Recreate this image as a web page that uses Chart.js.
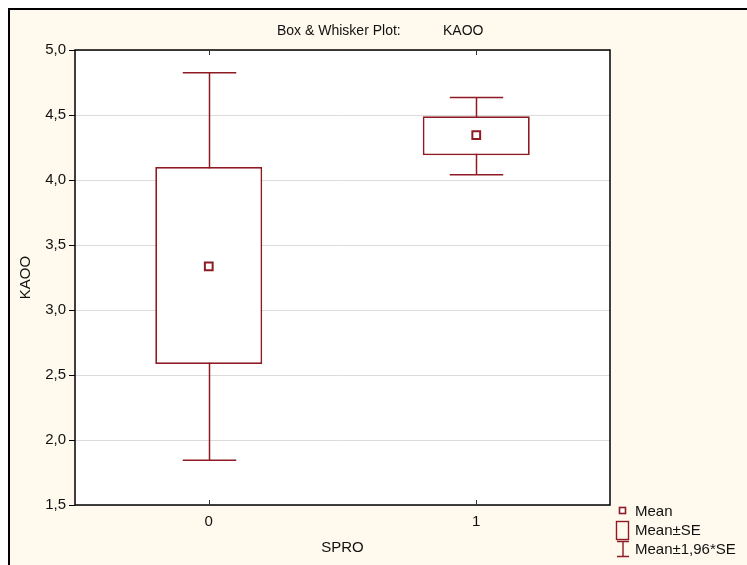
<!DOCTYPE html>
<html lang="en">
<head>
    <meta charset="UTF-8">
    <title>Box &amp; Whisker Plot: KAOO</title>
    <script src="https://cdn.jsdelivr.net/npm/chart.js"></script>
    <style>
        html, body { margin: 0; padding: 0; background: #fff; }
        body { width: 747px; height: 565px; position: relative; overflow: hidden; font-family: 'Liberation Sans', Arial, sans-serif; }
        .frame { position: absolute; left: 8px; top: 8px; width: 760px; height: 580px; background: #fff9ee;
                 border-left: 2px solid #000; border-top: 2px solid #000; }
        #chartWrap { position: absolute; left: 0; top: 0; width: 747px; height: 565px; }
        .title { position: absolute; top: 22px; font-size: 14px; line-height: 17px; color: #111; white-space: nowrap; }
        .legend { position: absolute; left: 612px; top: 501px; font-size: 15px; color: #111; }
        .legend div { position: relative; height: 19px; line-height: 19px; padding-left: 23px; }
        .legend svg { position: absolute; left: 0; top: 0; }
    </style>
</head>
<body>
    <div class="frame"></div>
    <div id="chartWrap"><canvas id="myChart" width="747" height="565"></canvas></div>
    <div class="title" style="left:277px;">Box &amp; Whisker Plot:</div>
    <div class="title" style="left:443px;">KAOO</div>
    <div class="legend">
        <div><svg width="20" height="19"><rect x="7.5" y="6.5" width="6" height="6" fill="#fff" stroke="#8e1b24" stroke-width="1.6"/></svg>Mean</div>
        <div><svg width="20" height="21"><rect x="4.5" y="1.5" width="12" height="18" fill="none" stroke="#8e1b24" stroke-width="1.4"/></svg>Mean±SE</div>
        <div><svg width="20" height="19"><path d="M5 2.5H17M11 2.5V17.5M5 17.5H17" fill="none" stroke="#8e1b24" stroke-width="1.4"/></svg>Mean±1,96*SE</div>
    </div>

    <script>
        // Datos
        const groups = ['0', '1'];
        const means = [3.335, 4.345];
        const seLow = [2.585, 4.19];
        const seHigh = [4.10, 4.49];
        const ciLow = [1.845, 4.04];
        const ciHigh = [4.825, 4.635];
        const yTicks = [1.5, 2.0, 2.5, 3.0, 3.5, 4.0, 4.5, 5.0];

        const boxColor = '#8e1b24';
        const axisFont = { family: 'Liberation Sans', size: 15 };

        // bigotes (debajo de las cajas) y marco del area
        const whiskers = {
            id: 'whiskers',
            beforeDatasetsDraw(chart) {
                const { ctx, scales: { x, y } } = chart;
                const half = (x.getPixelForValue(1) - x.getPixelForValue(0)) * 0.1;
                ctx.save();
                ctx.strokeStyle = boxColor;
                ctx.lineWidth = 1.5;
                groups.forEach((g, i) => {
                    const cx = Math.round(x.getPixelForValue(i)) + 0.5;
                    const top = y.getPixelForValue(ciHigh[i]);
                    const bot = y.getPixelForValue(ciLow[i]);
                    ctx.beginPath();
                    ctx.moveTo(cx, top); ctx.lineTo(cx, bot);
                    ctx.moveTo(cx - half, top); ctx.lineTo(cx + half, top);
                    ctx.moveTo(cx - half, bot); ctx.lineTo(cx + half, bot);
                    ctx.stroke();
                });
                ctx.restore();
            },
            afterDraw(chart) {
                const { ctx, chartArea: a, scales: { x } } = chart;
                ctx.save();
                ctx.strokeStyle = '#000';
                ctx.lineWidth = 1.5;
                ctx.strokeRect(a.left, a.top, a.right - a.left, a.bottom - a.top);
                ctx.lineWidth = 1;
                ctx.strokeStyle = '#333';
                groups.forEach((g, i) => {
                    const cx = Math.round(x.getPixelForValue(i)) + 0.5;
                    ctx.beginPath();
                    ctx.moveTo(cx, a.top); ctx.lineTo(cx, a.top + 5);
                    ctx.moveTo(cx, a.bottom); ctx.lineTo(cx, a.bottom - 5);
                    ctx.stroke();
                });
                ctx.restore();
            }
        };

        const plotBg = {
            id: 'plotBg',
            beforeDraw(chart) {
                const { ctx, chartArea: a } = chart;
                ctx.save();
                ctx.fillStyle = '#fff';
                ctx.fillRect(a.left, a.top, a.right - a.left, a.bottom - a.top);
                ctx.restore();
            }
        };

        const ctx = document.getElementById('myChart').getContext('2d');
        const chart = new Chart(ctx, {
            type: 'bar',
            data: {
                labels: groups,
                datasets: [{
                    type: 'line',
                    label: 'Mean',
                    data: means,
                    showLine: false,
                    pointStyle: 'rect',
                    pointRadius: 5.5,
                    pointBorderWidth: 2,
                    pointBackgroundColor: '#fff',
                    pointBorderColor: boxColor,
                    order: 0
                }, {
                    label: 'Mean±SE',
                    data: groups.map((g, i) => [seLow[i], seHigh[i]]),
                    backgroundColor: '#fff',
                    borderColor: boxColor,
                    borderWidth: 1.8,
                    borderSkipped: false,
                    categoryPercentage: 1,
                    barPercentage: 0.4,
                    order: 1
                }]
            },
            options: {
                responsive: false,
                animation: false,
                layout: { padding: { top: 50, right: 137, bottom: 0, left: 0 } },
                plugins: {
                    legend: { display: false },
                    tooltip: { enabled: false }
                },
                scales: {
                    x: {
                        offset: true,
                        grid: { display: true, drawOnChartArea: false, drawTicks: false },
                        border: { display: false },
                        ticks: { padding: 8, color: '#111', font: axisFont },
                        title: { display: true, text: 'SPRO', color: '#111', padding: { top: 0, bottom: 8 }, font: axisFont },
                        afterFit(scale) { scale.height = 60; }
                    },
                    y: {
                        min: 1.5,
                        max: 5,
                        afterBuildTicks(scale) { scale.ticks = yTicks.map(v => ({ value: v })); },
                        grid: { color: '#dcdcdc', tickColor: '#000', tickLength: 6, lineWidth: 1 },
                        border: { display: false },
                        ticks: {
                            padding: 3,
                            color: '#111',
                            font: axisFont,
                            callback: v => v.toFixed(1).replace('.', ',')
                        },
                        title: { display: true, text: 'KAOO', color: '#111', padding: { top: 17, bottom: 0 }, font: axisFont },
                        afterFit(scale) { scale.width = 75; }
                    }
                }
            },
            plugins: [plotBg, whiskers]
        });
    </script>
</body>
</html>
